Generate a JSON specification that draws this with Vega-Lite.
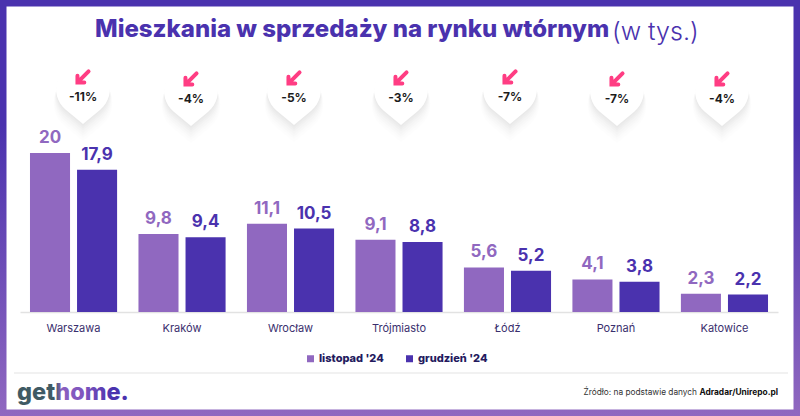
{
"$schema":"https://vega.github.io/schema/vega-lite/v6.json",
"width":800,"height":416,"padding":0,"autosize":{"type":"none"},"background":"#ffffff",
"config":{"font":"Inter","view":{"strokeWidth":13,"stroke":{"gradient":"linear","x1":0,"y1":0,"x2":0,"y2":1,"stops":[{"offset":0,"color":"#4a32ae"},{"offset":0.3,"color":"#4a32ae"},{"offset":1,"color":"#9068c0"}]}}},
"title":{"text":"Mieszkania w sprzedaży na rynku wtórnym","orient":"top","anchor":"start","frame":"group","dx":95,"offset":-42,"fontSize":24,"fontWeight":800,"color":"#4a32ae","font":"Inter"},
"datasets":{
"dane":[
{"miasto":"Warszawa","okres":"listopad '24","wartosc":20,"etykieta":"20"},
{"miasto":"Warszawa","okres":"grudzień '24","wartosc":17.9,"etykieta":"17,9"},
{"miasto":"Kraków","okres":"listopad '24","wartosc":9.8,"etykieta":"9,8"},
{"miasto":"Kraków","okres":"grudzień '24","wartosc":9.4,"etykieta":"9,4"},
{"miasto":"Wrocław","okres":"listopad '24","wartosc":11.1,"etykieta":"11,1"},
{"miasto":"Wrocław","okres":"grudzień '24","wartosc":10.5,"etykieta":"10,5"},
{"miasto":"Trójmiasto","okres":"listopad '24","wartosc":9.1,"etykieta":"9,1"},
{"miasto":"Trójmiasto","okres":"grudzień '24","wartosc":8.8,"etykieta":"8,8"},
{"miasto":"Łódź","okres":"listopad '24","wartosc":5.6,"etykieta":"5,6"},
{"miasto":"Łódź","okres":"grudzień '24","wartosc":5.2,"etykieta":"5,2"},
{"miasto":"Poznań","okres":"listopad '24","wartosc":4.1,"etykieta":"4,1"},
{"miasto":"Poznań","okres":"grudzień '24","wartosc":3.8,"etykieta":"3,8"},
{"miasto":"Katowice","okres":"listopad '24","wartosc":2.3,"etykieta":"2,3"},
{"miasto":"Katowice","okres":"grudzień '24","wartosc":2.2,"etykieta":"2,2"}],
"zmiany":[
{"miasto":"Warszawa","zmiana":"-11%","px":83,"py":89},
{"miasto":"Kraków","zmiana":"-4%","px":191,"py":91},
{"miasto":"Wrocław","zmiana":"-5%","px":294,"py":90},
{"miasto":"Trójmiasto","zmiana":"-3%","px":401,"py":90},
{"miasto":"Łódź","zmiana":"-7%","px":510,"py":89},
{"miasto":"Poznań","zmiana":"-7%","px":617,"py":91},
{"miasto":"Katowice","zmiana":"-4%","px":722,"py":91}]
},
"resolve":{"scale":{"x":"independent","y":"independent"}},
"layer":[
{"data":{"name":"zmiany"},
 "mark":{"type":"point","filled":true,"fill":"#000000","opacity":0.006,"yOffset":14,"size":3500,"shape":"M0,1.3L-0.639,0.769A1,1 0 1 1 0.639,0.769Z"},
 "encoding":{"x":{"field":"px","type":"quantitative","scale":{"domain":[0,800],"range":[0,800]},"axis":null},"y":{"field":"py","type":"quantitative","scale":{"domain":[0,416],"range":[0,416]},"axis":null}}},
{"data":{"name":"zmiany"},
 "mark":{"type":"point","filled":true,"fill":"#000000","opacity":0.008,"yOffset":12,"size":3350,"shape":"M0,1.3L-0.639,0.769A1,1 0 1 1 0.639,0.769Z"},
 "encoding":{"x":{"field":"px","type":"quantitative","scale":{"domain":[0,800],"range":[0,800]},"axis":null},"y":{"field":"py","type":"quantitative","scale":{"domain":[0,416],"range":[0,416]},"axis":null}}},
{"data":{"name":"zmiany"},
 "mark":{"type":"point","filled":true,"fill":"#000000","opacity":0.01,"yOffset":10,"size":3200,"shape":"M0,1.3L-0.639,0.769A1,1 0 1 1 0.639,0.769Z"},
 "encoding":{"x":{"field":"px","type":"quantitative","scale":{"domain":[0,800],"range":[0,800]},"axis":null},"y":{"field":"py","type":"quantitative","scale":{"domain":[0,416],"range":[0,416]},"axis":null}}},
{"data":{"name":"zmiany"},
 "mark":{"type":"point","filled":true,"fill":"#000000","opacity":0.012,"yOffset":8,"size":3100,"shape":"M0,1.3L-0.639,0.769A1,1 0 1 1 0.639,0.769Z"},
 "encoding":{"x":{"field":"px","type":"quantitative","scale":{"domain":[0,800],"range":[0,800]},"axis":null},"y":{"field":"py","type":"quantitative","scale":{"domain":[0,416],"range":[0,416]},"axis":null}}},
{"data":{"name":"zmiany"},
 "mark":{"type":"point","filled":true,"fill":"#000000","opacity":0.014,"yOffset":6,"size":3000,"shape":"M0,1.3L-0.639,0.769A1,1 0 1 1 0.639,0.769Z"},
 "encoding":{"x":{"field":"px","type":"quantitative","scale":{"domain":[0,800],"range":[0,800]},"axis":null},"y":{"field":"py","type":"quantitative","scale":{"domain":[0,416],"range":[0,416]},"axis":null}}},
{"data":{"name":"zmiany"},
 "mark":{"type":"point","filled":true,"fill":"#000000","opacity":0.016,"yOffset":4,"size":2950,"shape":"M0,1.3L-0.639,0.769A1,1 0 1 1 0.639,0.769Z"},
 "encoding":{"x":{"field":"px","type":"quantitative","scale":{"domain":[0,800],"range":[0,800]},"axis":null},"y":{"field":"py","type":"quantitative","scale":{"domain":[0,416],"range":[0,416]},"axis":null}}},
{"data":{"name":"zmiany"},
 "mark":{"type":"point","filled":true,"fill":"#000000","opacity":0.016,"yOffset":2,"size":2916,"shape":"M0,1.3L-0.639,0.769A1,1 0 1 1 0.639,0.769Z"},
 "encoding":{"x":{"field":"px","type":"quantitative","scale":{"domain":[0,800],"range":[0,800]},"axis":null},"y":{"field":"py","type":"quantitative","scale":{"domain":[0,416],"range":[0,416]},"axis":null}}},
{"data":{"name":"zmiany"},
 "mark":{"type":"point","filled":true,"fill":"#ffffff","opacity":1,"size":2916,"shape":"M0,1.3L-0.639,0.769A1,1 0 1 1 0.639,0.769Z"},
 "encoding":{"x":{"field":"px","type":"quantitative","scale":{"domain":[0,800],"range":[0,800]},"axis":null},"y":{"field":"py","type":"quantitative","scale":{"domain":[0,416],"range":[0,416]},"axis":null}}},
{"data":{"name":"zmiany"},
 "mark":{"type":"point","filled":false,"stroke":"#ff3d83","strokeWidth":4,"opacity":1,"yOffset":-12,"size":170,"shape":"M0.85,-0.85L-0.75,0.75M-0.85,-0.2L-0.85,0.85L0.2,0.85","strokeCap":"round"},
 "encoding":{"x":{"field":"px","type":"quantitative","scale":{"domain":[0,800],"range":[0,800]},"axis":null},"y":{"field":"py","type":"quantitative","scale":{"domain":[0,416],"range":[0,416]},"axis":null}}},
{"data":{"name":"zmiany"},
 "mark":{"type":"text","fontSize":12,"fontWeight":700,"color":"#1c1c1c","yOffset":8,"baseline":"middle"},
 "encoding":{"text":{"field":"zmiana"},"x":{"field":"px","type":"quantitative","scale":{"domain":[0,800],"range":[0,800]},"axis":null},"y":{"field":"py","type":"quantitative","scale":{"domain":[0,416],"range":[0,416]},"axis":null}}},
{"data":{"name":"dane"},
 "mark":{"type":"bar"},
 "encoding":{
  "x":{"field":"miasto","type":"nominal","sort":null,"scale":{"range":[20,778],"paddingInner":0.197,"paddingOuter":0.092},"axis":{"title":null,"ticks":false,"domainColor":"#e2e2e2","domainWidth":1.5,"labelAngle":0,"labelFontSize":11,"labelColor":"#3a2f6e","labelPadding":10,"labelFont":"Inter","offset":-104,"grid":false}},
  "xOffset":{"field":"okres","type":"nominal","sort":["listopad '24","grudzień '24"],"scale":{"paddingInner":0.149,"paddingOuter":0}},
  "y":{"field":"wartosc","type":"quantitative","scale":{"domain":[0,33.96],"range":[312,42],"nice":false},"axis":null},
  "color":{"field":"okres","type":"nominal","sort":["listopad '24","grudzień '24"],"scale":{"domain":["listopad '24","grudzień '24"],"range":["#9068c0","#4a32ae"]},
   "legend":{"title":null,"orient":"none","legendX":305,"legendY":353,"direction":"horizontal","symbolType":"square","symbolSize":49,"symbolOpacity":1,"labelFontSize":11,"labelFontWeight":800,"labelColor":"#241a5e","labelFont":"Inter","columnPadding":20,"labelOffset":3,"padding":0}}}},
{"data":{"name":"dane"},
 "mark":{"type":"text","fontSize":17,"fontWeight":700,"baseline":"bottom","dy":-6},
 "encoding":{
  "text":{"field":"etykieta"},
  "x":{"field":"miasto","type":"nominal","sort":null,"scale":{"range":[20,778],"paddingInner":0.197,"paddingOuter":0.092},"axis":null},
  "xOffset":{"field":"okres","type":"nominal","sort":["listopad '24","grudzień '24"],"scale":{"paddingInner":0.149,"paddingOuter":0}},
  "y":{"field":"wartosc","type":"quantitative","scale":{"domain":[0,33.96],"range":[312,42],"nice":false},"axis":null},
  "color":{"field":"okres","type":"nominal","sort":["listopad '24","grudzień '24"]}}},
{"data":{"values":[{"tekst":"(w tys.)"}]},
 "mark":{"type":"text","fontSize":25,"fontWeight":300,"color":"#4a32ae","align":"left","baseline":"alphabetic"},
 "encoding":{"text":{"field":"tekst"},"x":{"datum":612,"scale":{"domain":[0,800],"range":[0,800]},"axis":null},"y":{"datum":40,"scale":{"domain":[0,416],"range":[0,416]},"axis":null}}},
{"data":{"values":[{"linia":"stopka"}]},
 "mark":{"type":"rule","stroke":"#ececec","strokeWidth":1.5},
 "encoding":{"x":{"datum":14,"scale":{"domain":[0,800],"range":[0,800]},"axis":null},"x2":{"datum":788},"y":{"datum":373,"scale":{"domain":[0,416],"range":[0,416]},"axis":null}}},
{"data":{"values":[{"tekst":"gethome."}]},
 "mark":{"type":"text","fontSize":23.5,"fontWeight":800,"align":"left","baseline":"alphabetic","fill":{"gradient":"linear","x1":0,"y1":0,"x2":1,"y2":0,"stops":[{"offset":0,"color":"#3f5a64"},{"offset":0.34,"color":"#3f5a64"},{"offset":0.4,"color":"#8a5fc0"},{"offset":0.6,"color":"#7f55be"},{"offset":0.85,"color":"#4a32ae"},{"offset":1,"color":"#4a32ae"}]}},
 "encoding":{"text":{"field":"tekst"},"x":{"datum":17,"scale":{"domain":[0,800],"range":[0,800]},"axis":null},"y":{"datum":400,"scale":{"domain":[0,416],"range":[0,416]},"axis":null}}},
{"data":{"values":[{"tekst":"Źródło: na podstawie danych"}]},
 "mark":{"type":"text","fontSize":8.3,"fontWeight":400,"color":"#333333","align":"right","baseline":"alphabetic"},
 "encoding":{"text":{"field":"tekst"},"x":{"datum":697,"scale":{"domain":[0,800],"range":[0,800]},"axis":null},"y":{"datum":395,"scale":{"domain":[0,416],"range":[0,416]},"axis":null}}},
{"data":{"values":[{"tekst":"Adradar/Unirepo.pl"}]},
 "mark":{"type":"text","fontSize":8.4,"fontWeight":700,"color":"#111111","align":"right","baseline":"alphabetic"},
 "encoding":{"text":{"field":"tekst"},"x":{"datum":778,"scale":{"domain":[0,800],"range":[0,800]},"axis":null},"y":{"datum":395,"scale":{"domain":[0,416],"range":[0,416]},"axis":null}}}
]
}
